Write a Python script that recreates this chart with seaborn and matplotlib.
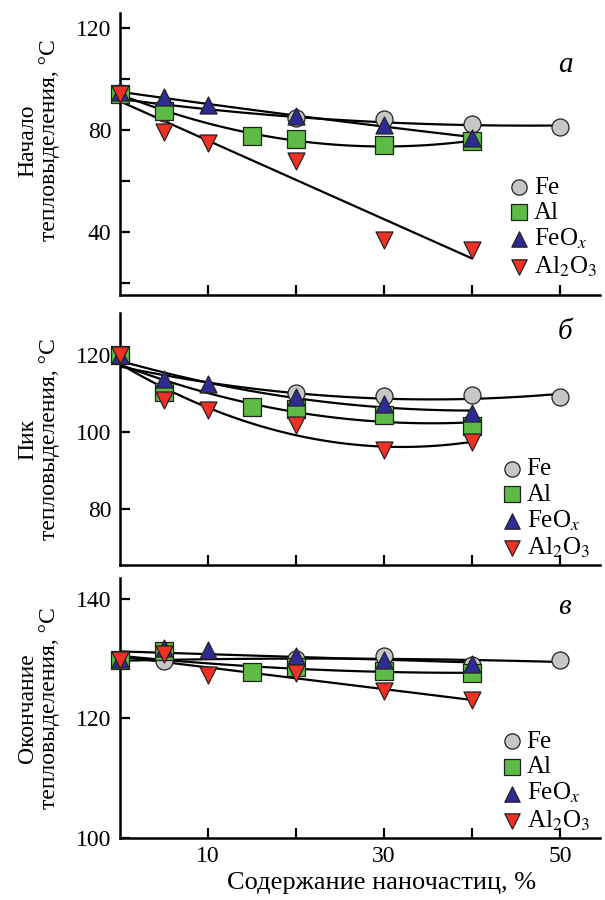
import matplotlib
matplotlib.use("Agg")
import matplotlib.pyplot as plt
import numpy as np
import pandas as pd
import seaborn as sns

# --- данные ---
x_fe = [0, 5, 20, 30, 40, 50]
x_al = [0, 5, 15, 20, 30, 40]
x_feox = [0, 5, 10, 20, 30, 40]
x_al2o3 = [0, 5, 10, 20, 30, 40]

# а) начало тепловыделения
a_fe = [94.6, 86.8, 84.6, 84.2, 82.5, 81.0]
a_al = [94.2, 87.5, 77.7, 76.4, 74.0, 75.5]
a_feox = [95.0, 92.7, 89.7, 85.5, 81.8, 77.0]
a_al2o3 = [94.0, 79.2, 75.0, 67.9, 36.9, 33.0]

# б) пик тепловыделения
b_fe = [120.0, 111.0, 110.2, 109.4, 109.6, 109.1]
b_al = [120.0, 110.4, 106.5, 106.1, 104.3, 101.5]
b_feox = [120.0, 113.7, 112.6, 109.1, 107.4, 105.0]
b_al2o3 = [120.0, 108.3, 105.8, 101.7, 95.2, 97.4]

# в) окончание тепловыделения
c_fe = [129.7, 129.6, 130.0, 130.5, 129.0, 129.7]
c_al = [129.7, 131.2, 127.7, 128.5, 127.9, 127.6]
c_feox = [130.0, 131.7, 131.4, 130.4, 129.7, 129.1]
c_al2o3 = [129.8, 130.7, 127.2, 127.6, 124.6, 123.0]

labels = ['Fe', 'Al', r'FeO$_{\mathit{x}}$', r'Al$_2$O$_3$']
markers = ['o', 's', '^', 'v']
colors = ['#c6c6c6', '#5dbb46', '#2e2c92', '#ee3124']

ylabels = ['Начало\nтепловыделения, °C',
           'Пик\nтепловыделения, °C',
           'Окончание\nтепловыделения, °C']
letters = ['а', 'б', 'в']

sns.set_style('ticks')
plt.rcParams['font.family'] = ['Liberation Serif', 'DejaVu Serif']
plt.rcParams['mathtext.fontset'] = 'stix'
for k in ['text.color', 'axes.labelcolor', 'xtick.color', 'ytick.color', 'axes.edgecolor']:
    plt.rcParams[k] = 'black'

fig = plt.figure(figsize=(6.05, 9), dpi=100)
ax_a = fig.add_axes([0.198, 0.672, 0.793, 0.313])
ax_b = fig.add_axes([0.198, 0.372, 0.793, 0.280])
ax_c = fig.add_axes([0.198, 0.069, 0.793, 0.289])

panels = [
    (ax_a, [a_fe, a_al, a_feox, a_al2o3], [2, 2, 2, 1], (15.4, 125.5), [40, 80, 120], [20, 60, 100],
     0.816, 0.55, (1.0, 0.05)),
    (ax_b, [b_fe, b_al, b_feox, b_al2o3], [2, 2, 2, 2], (65.2, 131), [80, 100, 120], [],
     0.925, 0.5, (0.985, 0.01)),
    (ax_c, [c_fe, c_al, c_feox, c_al2o3], [2, 2, 1, 1], (100, 143.5), [100, 120, 140], [],
     0.888, 0.5, (0.985, 0.01)),
]
xs = [x_fe, x_al, x_feox, x_al2o3]

for i, (ax, ys, orders, ylim, yt, ytm, ly, lab_y, anchor) in enumerate(panels):
    # аппроксимирующие кривые
    for x, y, o in zip(xs, ys, orders):
        sns.regplot(x=np.array(x, float), y=np.array(y), order=o, ci=None, scatter=False,
                    truncate=True, ax=ax, color='black', line_kws={'lw': 1.6, 'zorder': 2})
    for x, y, lab, m, c in zip(xs, ys, labels, markers, colors):
        sns.scatterplot(x=x, y=y, marker=m, color=c, edgecolor='#222222', linewidth=0.9,
                        s=150, ax=ax, label=lab, zorder=3, clip_on=False)

    ax.set_xlim(0, 54.5)
    ax.set_ylim(*ylim)
    ax.set_xticks([10, 30, 50])
    ax.set_xticks([20, 40], minor=True)
    ax.set_yticks(yt)
    ax.set_yticks(ytm, minor=True)
    ax.tick_params(which='both', direction='in', length=7, width=1.6, labelsize=17, pad=6)
    for s in ['left', 'bottom']:
        ax.spines[s].set_linewidth(1.8)
    sns.despine(ax=ax)
    if i < 2:
        ax.set_xticklabels([])
    ax.set_ylabel(ylabels[i], fontsize=17, linespacing=1.05)
    ax.yaxis.set_label_coords(-0.125, lab_y)
    ax.text(0.913, ly, letters[i], transform=ax.transAxes, fontsize=21,
            style='italic', ha='left', va='center')
    ax.legend(loc='lower right', bbox_to_anchor=anchor, frameon=False, fontsize=18,
              handletextpad=0.15, labelspacing=0.12, markerscale=0.9, borderaxespad=0.0,
              borderpad=0.1, handlelength=0.9)

ax_c.set_xlabel('Содержание наночастиц, %', fontsize=19)
ax_c.xaxis.set_label_coords(0.546, -0.13)

fig.savefig('out.png', dpi=100)
